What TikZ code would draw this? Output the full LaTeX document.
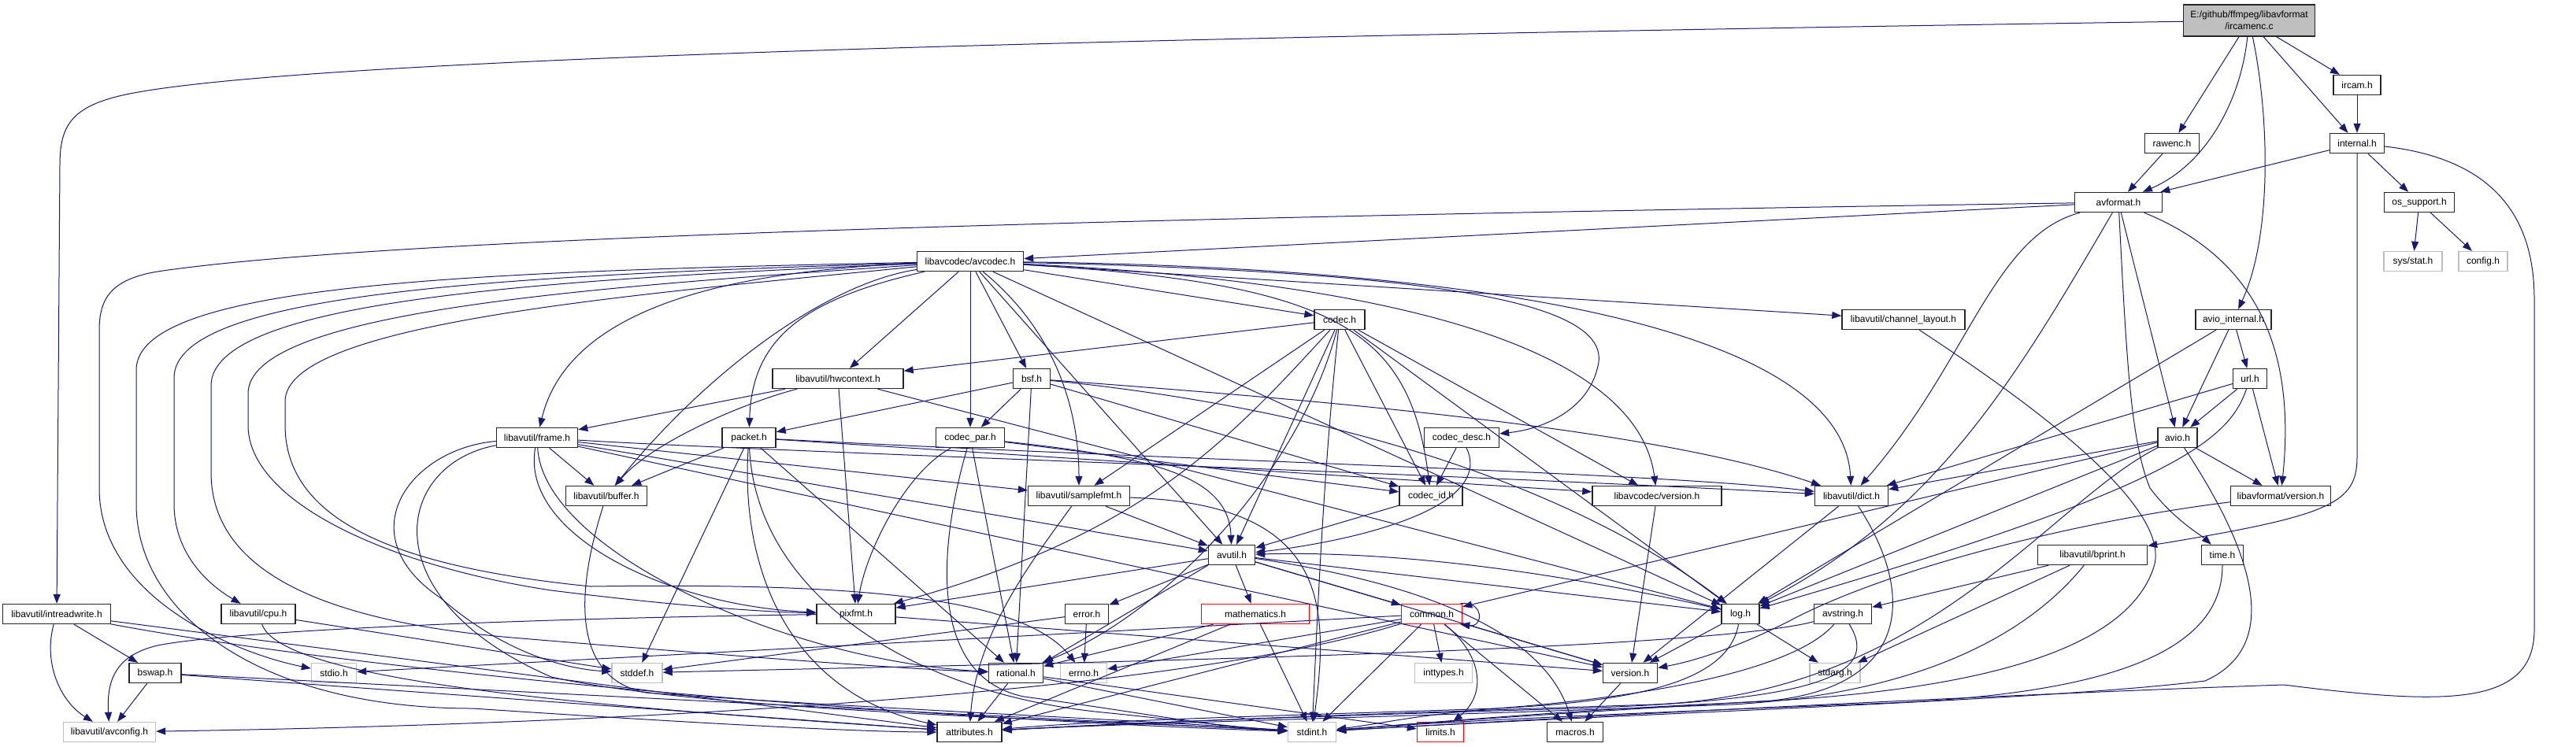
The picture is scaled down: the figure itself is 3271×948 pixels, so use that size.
\documentclass[tikz,border=0pt]{standalone}
\usepackage{fontspec}
\setmainfont{Liberation Sans}
\usetikzlibrary{arrows.meta}
\definecolor{edgeblue}{HTML}{191970}
\definecolor{sysgray}{HTML}{BFBFBF}

\begin{document}
\begin{tikzpicture}[
    x=1pt, y=-1pt,
    nd/.style={draw=black!85, line width=1.4pt, fill=white, minimum height=25pt, inner sep=1pt, font=\fontsize{12}{15}\selectfont},
    sys/.style={nd, draw=sysgray},
    trunc/.style={nd, draw=red},
    src/.style={nd, fill=sysgray, align=center, minimum height=40pt},
    dep/.style={-{Triangle[length=12pt,width=9pt]}, line width=1pt, edgeblue},
]
\fill[white] (0,0) rectangle (3271,948);
\useasboundingbox (0,0) rectangle (3271,948);

% the file itself
\node[src, minimum width=167] (root) at (2856,26) {E:/github/ffmpeg/libavformat\\/ircamenc.c};

% libavformat
\node[nd, minimum width=60]  (ircam) at (2993,108) {ircam.h};
\node[nd, minimum width=69]  (rawenc) at (2758,182) {rawenc.h};
\node[nd, minimum width=69]  (internal) at (2993,182) {internal.h};
\node[nd, minimum width=111] (avformat) at (2690,257) {avformat.h};
\node[nd, minimum width=89]  (ossupport) at (3072,257) {os\_support.h};
\node[sys, minimum width=74] (sysstat) at (3064,332) {sys/stat.h};
\node[sys, minimum width=62] (config) at (3153,332) {config.h};
\node[nd, minimum width=96]  (aviointernal) at (2836,406) {avio\_internal.h};
\node[nd, minimum width=43]  (url) at (2857,481) {url.h};
\node[nd, minimum width=50]  (avio) at (2765,556) {avio.h};
\node[nd, minimum width=127] (lavfversion) at (2896,630) {libavformat/version.h};
\node[nd, minimum width=53]  (timeh) at (2822,705) {time.h};
\node[nd, minimum width=139] (bprint) at (2657,705) {libavutil/bprint.h};

% libavcodec
\node[nd, minimum width=135] (avcodec) at (1232,332) {libavcodec/avcodec.h};
\node[nd, minimum width=64]  (codec) at (1701,406) {codec.h};
\node[nd, minimum width=156] (chlayout) at (2417,406) {libavutil/channel\_layout.h};
\node[nd, minimum width=166] (hwctx) at (1064,481) {libavutil/hwcontext.h};
\node[nd, minimum width=47]  (bsf) at (1310,481) {bsf.h};
\node[nd, minimum width=103] (frame) at (682,556) {libavutil/frame.h};
\node[nd, minimum width=68]  (packet) at (951,556) {packet.h};
\node[nd, minimum width=87]  (codecpar) at (1232,556) {codec\_par.h};
\node[nd, minimum width=95]  (codecdesc) at (1856,556) {codec\_desc.h};
\node[nd, minimum width=103] (buffer) at (770,630) {libavutil/buffer.h};
\node[nd, minimum width=129] (samplefmt) at (1370,630) {libavutil/samplefmt.h};
\node[nd, minimum width=80]  (codecid) at (1817,630) {codec\_id.h};
\node[nd, minimum width=164] (lavcversion) at (2104,630) {libavcodec/version.h};
\node[nd, minimum width=93]  (dict) at (2351,630) {libavutil/dict.h};

% libavutil
\node[nd, minimum width=59]  (avutil) at (1564,705) {avutil.h};
\node[nd, minimum width=137] (intreadwrite) at (72,780) {libavutil/intreadwrite.h};
\node[nd, minimum width=94]  (cpu) at (328,780) {libavutil/cpu.h};
\node[nd, minimum width=100] (pixfmt) at (1087,780) {pixfmt.h};
\node[nd, minimum width=55]  (error) at (1380,780) {error.h};
\node[trunc, minimum width=137] (mathematics) at (1594,780) {mathematics.h};
\node[trunc, minimum width=77] (common) at (1818,780) {common.h};
\node[nd, minimum width=48]  (log) at (2210,780) {log.h};
\node[nd, minimum width=73]  (avstring) at (2340,780) {avstring.h};
\node[nd, minimum width=66]  (bswap) at (197,855) {bswap.h};
\node[sys, minimum width=57] (stdio) at (424,855) {stdio.h};
\node[sys, minimum width=64] (stddef) at (809,855) {stddef.h};
\node[nd, minimum width=69]  (rational) at (1290,855) {rational.h};
\node[sys, minimum width=59] (errno) at (1376,855) {errno.h};
\node[sys, minimum width=73] (inttypes) at (1833,855) {inttypes.h};
\node[nd, minimum width=69]  (version) at (2070,855) {version.h};
\node[sys, minimum width=64] (stdarg) at (2330,855) {stdarg.h};
\node[sys, minimum width=117] (avconfig) at (139,930) {libavutil/avconfig.h};
\node[nd, minimum width=82]  (attributes) at (1231,930) {attributes.h};
\node[sys, minimum width=61] (stdint) at (1666,930) {stdint.h};
\node[trunc, minimum width=59] (limits) at (1829,930) {limits.h};
\node[nd, minimum width=71]  (macros) at (2000,930) {macros.h};

% ircamenc.c
\draw[dep] (root) -- (ircam);
\draw[dep] (root) -- (internal);
\draw[dep] (root) -- (rawenc);
\draw[dep] (root) .. controls (2845,130) and (2800,210) .. (avformat);
\draw[dep] (root) .. controls (2882,150) and (2885,300) .. (aviointernal);
\draw[dep] (root) .. controls (1600,45) and (400,70) .. (160,120) .. controls (90,135) and (76,160) .. (76,210) -- (intreadwrite);

% ircam.h, rawenc.h, internal.h
\draw[dep] (ircam) -- (internal);
\draw[dep] (rawenc) -- (avformat);
\draw[dep] (internal) -- (avformat);
\draw[dep] (internal) -- (ossupport);
\draw[dep] (internal) -- (2993,580) .. controls (2993,640) and (2960,655) .. (bprint);
\draw[dep] (internal) .. controls (3150,200) and (3218,260) .. (3218,380) -- (3218,800) .. controls (3218,900) and (3100,895) .. (2900,870) .. controls (2600,880) and (2100,905) .. (stdint);
\draw[dep] (ossupport) -- (sysstat);
\draw[dep] (ossupport) -- (config);

% avformat.h
\draw[dep] (avformat) -- (avcodec);
\draw[dep] (avformat) .. controls (1500,275) and (500,300) .. (200,345) .. controls (140,355) and (126,380) .. (126,420) -- (126,620) .. controls (126,760) and (300,830) .. (stdio);
\draw[dep] (avformat) .. controls (2700,450) and (2705,560) .. (2730,620) .. controls (2760,660) and (2795,680) .. (timeh);
\draw[dep] (avformat) -- (avio);
\draw[dep] (avformat) .. controls (2530,300) and (2500,460) .. (dict);
\draw[dep] (avformat) .. controls (2560,480) and (2460,650) .. (log);
\draw[dep] (avformat) .. controls (2870,330) and (2915,450) .. (lavfversion);

% avio_internal.h, url.h, avio.h
\draw[dep] (aviointernal) -- (avio);
\draw[dep] (aviointernal) -- (url);
\draw[dep] (aviointernal) -- (log);
\draw[dep] (url) -- (avio);
\draw[dep] (url) -- (lavfversion);
\draw[dep] (url) -- (dict);
\draw[dep] (url) .. controls (2830,560) and (2760,620) .. (log);
\draw[dep] (avio) -- (lavfversion);
\draw[dep] (avio) -- (dict);
\draw[dep] (avio) -- (log);
\draw[dep] (avio) -- (common);
\draw[dep] (avio) .. controls (2860,700) and (2900,820) .. (2800,865) .. controls (2600,890) and (2100,905) .. (stdint);
\draw[dep] (avio) .. controls (2600,640) and (2450,880) .. (2100,895) .. controls (1800,905) and (1500,915) .. (attributes);

% libavcodec/avcodec.h
\draw[dep] (avcodec) .. controls (900,345) and (720,400) .. (frame);
\draw[dep] (avcodec) -- (hwctx);
\draw[dep] (avcodec) .. controls (1020,380) and (955,430) .. (packet);
\draw[dep] (avcodec) -- (codecpar);
\draw[dep] (avcodec) -- (bsf);
\draw[dep] (avcodec) .. controls (1340,420) and (1370,520) .. (samplefmt);
\draw[dep] (avcodec) -- (codec);
\draw[dep] (avcodec) .. controls (1800,345) and (2040,380) .. (2030,460) .. controls (2020,520) and (1960,545) .. (codecdesc);
\draw[dep] (avcodec) .. controls (1700,360) and (1790,420) .. (codecid);
\draw[dep] (avcodec) .. controls (1800,360) and (2080,450) .. (lavcversion);
\draw[dep] (avcodec) .. controls (1900,340) and (2340,420) .. (dict);
\draw[dep] (avcodec) -- (chlayout);
\draw[dep] (avcodec) .. controls (1050,360) and (900,470) .. (buffer);
\draw[dep] (avcodec) -- (avutil);
\draw[dep] (avcodec) -- (log);
\draw[dep] (avcodec) .. controls (600,345) and (173,360) .. (173,470) -- (173,640) .. controls (173,780) and (330,900) .. (600,900) .. controls (900,920) and (1100,930) .. (attributes);
\draw[dep] (avcodec) .. controls (650,350) and (221,370) .. (221,480) -- (221,640) .. controls (221,700) and (260,740) .. (cpu);
\draw[dep] (avcodec) .. controls (700,355) and (268,380) .. (268,490) -- (268,600) .. controls (268,730) and (420,790) .. (650,810) .. controls (950,835) and (1150,850) .. (rational);
\draw[dep] (avcodec) .. controls (750,365) and (315,395) .. (315,500) -- (315,540) .. controls (315,640) and (500,720) .. (700,750) .. controls (900,775) and (1000,778) .. (pixfmt);
\draw[dep] (avcodec) .. controls (800,375) and (362,410) .. (362,510) -- (362,540) .. controls (362,660) and (500,720) .. (750,745) .. controls (1100,740) and (1300,760) .. (errno);

% codec.h
\draw[dep] (codec) -- (hwctx);
\draw[dep] (codec) -- (avutil);
\draw[dep] (codec) -- (codecid);
\draw[dep] (codec) -- (lavcversion);
\draw[dep] (codec) -- (log);
\draw[dep] (codec) .. controls (1560,560) and (1450,680) .. (pixfmt);
\draw[dep] (codec) .. controls (1650,600) and (1480,780) .. (rational);
\draw[dep] (codec) -- (samplefmt);
\draw[dep] (codec) .. controls (1680,600) and (1672,800) .. (stdint);

% hwcontext.h, bsf.h
\draw[dep] (hwctx) -- (frame);
\draw[dep] (hwctx) .. controls (950,510) and (830,560) .. (buffer);
\draw[dep] (hwctx) -- (pixfmt);
\draw[dep] (hwctx) -- (log);
\draw[dep] (bsf) -- (packet);
\draw[dep] (bsf) -- (codecpar);
\draw[dep] (bsf) -- (rational);
\draw[dep] (bsf) -- (codecid);
\draw[dep] (bsf) .. controls (1700,510) and (2100,545) .. (dict);
\draw[dep] (bsf) .. controls (1700,520) and (2000,620) .. (log);

% libavutil/frame.h
\draw[dep] (frame) -- (buffer);
\draw[dep] (frame) -- (avutil);
\draw[dep] (frame) .. controls (1000,575) and (1800,600) .. (dict);
\draw[dep] (frame) -- (samplefmt);
\draw[dep] (frame) .. controls (660,680) and (850,770) .. (pixfmt);
\draw[dep] (frame) .. controls (690,700) and (1000,840) .. (rational);
\draw[dep] (frame) -- (version);
\draw[dep] (frame) .. controls (520,570) and (440,680) .. (560,760) .. controls (640,830) and (720,850) .. (stddef);
\draw[dep] (frame) .. controls (500,590) and (470,760) .. (700,860) .. controls (900,905) and (1400,915) .. (stdint);

% packet.h, codec_par.h, codec_desc.h, codec_id.h
\draw[dep] (packet) -- (buffer);
\draw[dep] (packet) -- (stddef);
\draw[dep] (packet) .. controls (1500,585) and (2100,600) .. (dict);
\draw[dep] (packet) -- (lavcversion);
\draw[dep] (packet) -- (rational);
\draw[dep] (packet) .. controls (940,720) and (1000,880) .. (attributes);
\draw[dep] (packet) .. controls (960,750) and (1150,880) .. (1400,905) .. controls (1500,915) and (1580,925) .. (stdint);
\draw[dep] (codecpar) -- (codecid);
\draw[dep] (codecpar) .. controls (1450,580) and (1560,600) .. (avutil);
\draw[dep] (codecpar) -- (rational);
\draw[dep] (codecpar) .. controls (1150,600) and (1100,700) .. (pixfmt);
\draw[dep] (codecpar) .. controls (1190,700) and (1180,860) .. (1300,885) .. controls (1450,905) and (1550,925) .. (stdint);
\draw[dep] (codecdesc) -- (codecid);
\draw[dep] (codecdesc) .. controls (1900,650) and (1700,690) .. (avutil);
\draw[dep] (codecid) -- (avutil);
\draw[dep] (lavcversion) -- (version);

% samplefmt.h, buffer.h, channel_layout.h, dict.h
\draw[dep] (samplefmt) -- (avutil);
\draw[dep] (samplefmt) .. controls (1320,700) and (1240,800) .. (attributes);
\draw[dep] (samplefmt) .. controls (1680,640) and (1690,760) .. (stdint);
\draw[dep] (buffer) .. controls (735,740) and (720,860) .. (820,880) .. controls (1100,900) and (1450,915) .. (stdint);
\draw[dep] (chlayout) .. controls (2560,500) and (2760,640) .. (2735,720) .. controls (2700,830) and (2500,880) .. (2200,893) .. controls (2000,902) and (1850,915) .. (stdint);
\draw[dep] (dict) -- (version);
\draw[dep] (dict) .. controls (2430,750) and (2430,870) .. (2250,890) .. controls (2000,905) and (1850,915) .. (stdint);

% avutil.h
\draw[dep] (avutil) -- (pixfmt);
\draw[dep] (avutil) -- (error);
\draw[dep] (avutil.south west) -- (rational.north east);
\draw[dep] (avutil) -- (mathematics);
\draw[dep] (avutil) -- (common);
\draw[dep] (avutil) -- (log);
\draw[dep] (avutil) -- (version);
\draw[dep] (avutil) .. controls (1800,740) and (1960,800) .. (macros);

% pixfmt.h, error.h, mathematics.h
\draw[dep] (pixfmt) .. controls (700,785) and (300,800) .. (200,820) .. controls (150,832) and (135,860) .. (avconfig);
\draw[dep] (pixfmt) -- (version);
\draw[dep] (error) -- (errno);
\draw[dep] (error) -- (stddef);
\draw[dep] (mathematics) -- (rational);
\draw[dep] (mathematics) -- (attributes);
\draw[dep] (mathematics) -- (stdint);

% common.h
\draw[dep] (common.20) .. controls +(30,-4) and +(30,4) .. (common.-20);
\draw[dep] (common) -- (inttypes);
\draw[dep] (common) .. controls (1880,830) and (1890,880) .. (limits);
\draw[dep] (common) -- (stdint);
\draw[dep] (common) -- (macros);
\draw[dep] (common) -- (version);
\draw[dep] (common) -- (errno);
\draw[dep] (common) -- (stdio);
\draw[dep] (common) -- (attributes);
\draw[dep] (common) .. controls (1500,880) and (800,920) .. (avconfig);

% log.h, avstring.h, bprint.h
\draw[dep] (log) -- (stdarg);
\draw[dep] (log) -- (version);
\draw[dep] (log) .. controls (1950,720) and (1750,700) .. (avutil);
\draw[dep] (log) .. controls (2195,860) and (2100,890) .. (1900,900) .. controls (1600,910) and (1400,915) .. (attributes);
\draw[dep] (avstring) .. controls (2150,830) and (1200,845) .. (stddef);
\draw[dep] (avstring) .. controls (2280,850) and (2100,885) .. (1900,900) .. controls (1800,908) and (1750,920) .. (stdint);
\draw[dep] (avstring) .. controls (2390,860) and (2300,890) .. (2000,900) .. controls (1600,912) and (1400,920) .. (attributes);
\draw[dep] (bprint) -- (avstring);
\draw[dep] (bprint) -- (stdarg);
\draw[dep] (bprint) .. controls (2580,800) and (2450,880) .. (2200,895) .. controls (1800,910) and (1400,920) .. (attributes);

% rational.h, intreadwrite.h, bswap.h, cpu.h
\draw[dep] (rational) -- (attributes);
\draw[dep] (rational) -- (stdint);
\draw[dep] (rational) -- (limits);
\draw[dep] (intreadwrite) -- (bswap);
\draw[dep] (intreadwrite) .. controls (55,840) and (75,890) .. (avconfig);
\draw[dep] (intreadwrite) -- (attributes);
\draw[dep] (intreadwrite) .. controls (500,860) and (1200,915) .. (stdint);
\draw[dep] (bswap) -- (avconfig);
\draw[dep] (bswap) -- (attributes);
\draw[dep] (bswap) -- (stdint);
\draw[dep] (cpu) -- (stddef);
\draw[dep] (cpu) .. controls (360,870) and (800,900) .. (attributes);

% version headers, time.h
\draw[dep] (version) -- (macros);
\draw[dep] (lavfversion) .. controls (2650,660) and (2400,720) .. (2270,790) .. controls (2200,825) and (2150,840) .. (version);
\draw[dep] (timeh) .. controls (2822,820) and (2700,880) .. (2400,893) .. controls (2100,905) and (1850,915) .. (stdint);

\end{tikzpicture}
\end{document}
